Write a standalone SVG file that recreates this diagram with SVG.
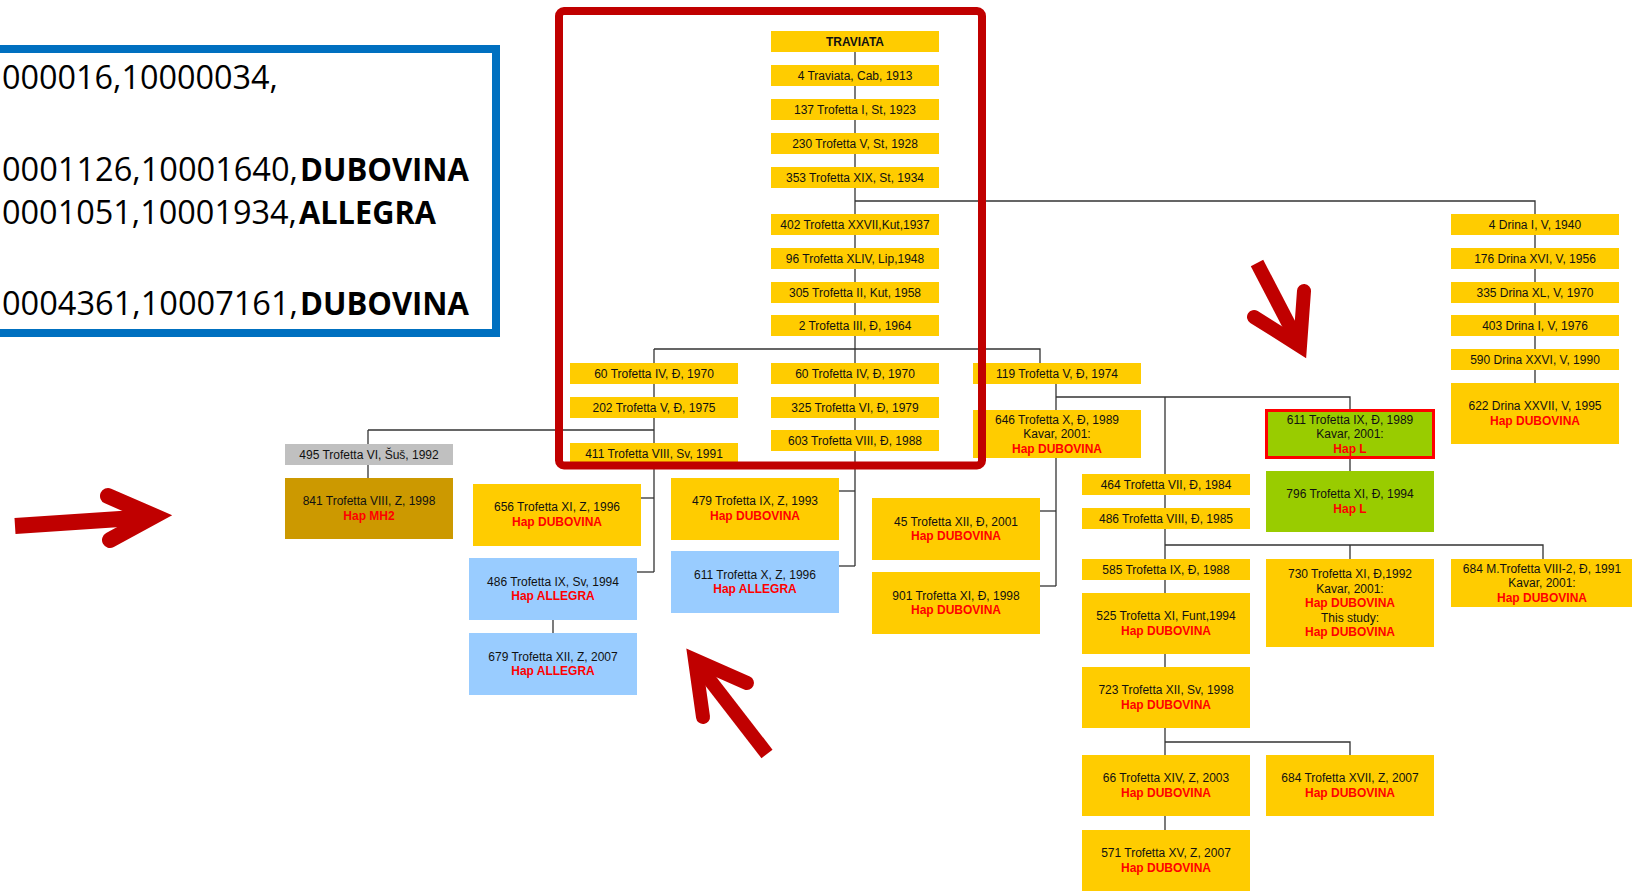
<svg xmlns="http://www.w3.org/2000/svg" width="1632" height="892" viewBox="0 0 1632 892">
<style>
.y{fill:#ffcc00}.g{fill:#99cc00}.b{fill:#99ccff}.gr{fill:#c0c0c0}.d{fill:#cc9900}
.t{font-family:"Liberation Sans",Arial,sans-serif;font-size:12px;fill:#111;text-anchor:middle}
.h{font-weight:bold;fill:#ff0000}
.bo{font-weight:bold}
.c{stroke:#333;stroke-width:1.3;fill:none}
.big{font-family:"Open Sans","Liberation Sans",sans-serif;font-size:33px;fill:#000}
.ar{stroke:#c00000;fill:none}
</style>
<rect width="1632" height="892" fill="#fff"/>

<g id="legend-box">
<rect x="-10" y="49" width="506" height="284" fill="none" stroke="#0070c0" stroke-width="8"/>
<text class="big" x="2" y="89" textLength="276" lengthAdjust="spacingAndGlyphs">000016,10000034,</text>
<text class="big" x="2" y="181" textLength="296" lengthAdjust="spacingAndGlyphs">0001126,10001640,</text>
<text class="big" x="300" y="181" font-weight="bold" textLength="169" lengthAdjust="spacingAndGlyphs">DUBOVINA</text>
<text class="big" x="2" y="224" textLength="295" lengthAdjust="spacingAndGlyphs">0001051,10001934,</text>
<text class="big" x="299" y="224" font-weight="bold" textLength="137" lengthAdjust="spacingAndGlyphs">ALLEGRA</text>
<text class="big" x="2" y="315" textLength="296" lengthAdjust="spacingAndGlyphs">0004361,10007161,</text>
<text class="big" x="300" y="315" font-weight="bold" textLength="169" lengthAdjust="spacingAndGlyphs">DUBOVINA</text>
</g>

<g id="connectors" class="c">
<path d="M855,52V566"/>
<path d="M855,201H1535V383"/>
<path d="M654,349H1040V363"/>
<path d="M654,349V572"/>
<path d="M368,430H654"/>
<path d="M368,430V478"/>
<path d="M641,498H654"/>
<path d="M637,572H654"/>
<path d="M553,620V633"/>
<path d="M839,491H855"/>
<path d="M839,566H855"/>
<path d="M1056,384V586"/>
<path d="M1040,511H1056"/>
<path d="M1040,586H1056"/>
<path d="M1056,397H1350V409"/>
<path d="M1350,459V471"/>
<path d="M1165,397V830"/>
<path d="M1165,545H1543V559"/>
<path d="M1350,545V559"/>
<path d="M1165,742H1350V755"/>
</g>

<g id="n-traviata"><rect class="y" x="771" y="31" width="168" height="21"/><text class="t bo" x="855" y="45.5">TRAVIATA</text></g>
<g id="n-4-traviata"><rect class="y" x="771" y="65" width="168" height="21"/><text class="t" x="855" y="79.5">4 Traviata, Cab, 1913</text></g>
<g id="n-137"><rect class="y" x="771" y="99" width="168" height="21"/><text class="t" x="855" y="113.5">137 Trofetta I, St, 1923</text></g>
<g id="n-230"><rect class="y" x="771" y="133" width="168" height="21"/><text class="t" x="855" y="147.5">230 Trofetta V, St, 1928</text></g>
<g id="n-353"><rect class="y" x="771" y="167" width="168" height="21"/><text class="t" x="855" y="181.5">353 Trofetta XIX, St, 1934</text></g>
<g id="n-402"><rect class="y" x="771" y="214" width="168" height="21"/><text class="t" x="855" y="228.5">402 Trofetta XXVII,Kut,1937</text></g>
<g id="n-96"><rect class="y" x="771" y="248" width="168" height="21"/><text class="t" x="855" y="262.5">96 Trofetta XLIV, Lip,1948</text></g>
<g id="n-305"><rect class="y" x="771" y="282" width="168" height="21"/><text class="t" x="855" y="296.5">305 Trofetta II, Kut, 1958</text></g>
<g id="n-2"><rect class="y" x="771" y="315" width="168" height="21"/><text class="t" x="855" y="329.5">2 Trofetta III, Đ, 1964</text></g>
<g id="n-60b"><rect class="y" x="771" y="363" width="168" height="21"/><text class="t" x="855" y="377.5">60 Trofetta IV, Đ, 1970</text></g>
<g id="n-325"><rect class="y" x="771" y="397" width="168" height="21"/><text class="t" x="855" y="411.5">325 Trofetta VI, Đ, 1979</text></g>
<g id="n-603"><rect class="y" x="771" y="430" width="168" height="21"/><text class="t" x="855" y="444.5">603 Trofetta VIII, Đ, 1988</text></g>

<g id="n-60a"><rect class="y" x="570" y="363" width="168" height="21"/><text class="t" x="654" y="377.5">60 Trofetta IV, Đ, 1970</text></g>
<g id="n-202"><rect class="y" x="570" y="397" width="168" height="21"/><text class="t" x="654" y="411.5">202 Trofetta V, Đ, 1975</text></g>
<g id="n-411"><rect class="y" x="570" y="443" width="168" height="21"/><text class="t" x="654" y="457.5">411 Trofetta VIII, Sv, 1991</text></g>

<g id="n-495"><rect class="gr" x="285" y="444" width="168" height="21"/><text class="t" x="369" y="458.5">495 Trofetta VI, Šuš, 1992</text></g>
<g id="n-841"><rect class="d" x="285" y="478" width="168" height="61"/><text class="t" x="369" y="505">841 Trofetta VIII, Z, 1998</text><text class="t h" x="369" y="519.5">Hap MH2</text></g>
<g id="n-656"><rect class="y" x="473" y="484" width="168" height="62"/><text class="t" x="557" y="511">656 Trofetta XI, Z, 1996</text><text class="t h" x="557" y="525.5">Hap DUBOVINA</text></g>
<g id="n-486a"><rect class="b" x="469" y="558" width="168" height="62"/><text class="t" x="553" y="585.5">486 Trofetta IX, Sv, 1994</text><text class="t h" x="553" y="600">Hap ALLEGRA</text></g>
<g id="n-679"><rect class="b" x="469" y="633" width="168" height="62"/><text class="t" x="553" y="660.5">679 Trofetta XII, Z, 2007</text><text class="t h" x="553" y="675">Hap ALLEGRA</text></g>
<g id="n-479"><rect class="y" x="671" y="478" width="168" height="62"/><text class="t" x="755" y="505">479 Trofetta IX, Z, 1993</text><text class="t h" x="755" y="519.5">Hap DUBOVINA</text></g>
<g id="n-611x"><rect class="b" x="671" y="551" width="168" height="62"/><text class="t" x="755" y="578.5">611 Trofetta X, Z, 1996</text><text class="t h" x="755" y="593">Hap ALLEGRA</text></g>

<g id="n-119"><rect class="y" x="973" y="363" width="168" height="21"/><text class="t" x="1057" y="377.5">119 Trofetta V, Đ, 1974</text></g>
<g id="n-646"><rect class="y" x="973" y="410" width="168" height="48"/><text class="t" x="1057" y="423.5">646 Trofetta X, Đ, 1989</text><text class="t" x="1057" y="438">Kavar, 2001:</text><text class="t h" x="1057" y="452.5">Hap DUBOVINA</text></g>
<g id="n-45"><rect class="y" x="872" y="498" width="168" height="62"/><text class="t" x="956" y="525.5">45 Trofetta XII, Đ, 2001</text><text class="t h" x="956" y="540">Hap DUBOVINA</text></g>
<g id="n-901"><rect class="y" x="872" y="572" width="168" height="62"/><text class="t" x="956" y="599.5">901 Trofetta XI, Đ, 1998</text><text class="t h" x="956" y="614">Hap DUBOVINA</text></g>

<g id="n-drina4"><rect class="y" x="1451" y="214" width="168" height="21"/><text class="t" x="1535" y="228.5">4 Drina I, V, 1940</text></g>
<g id="n-drina176"><rect class="y" x="1451" y="248" width="168" height="21"/><text class="t" x="1535" y="262.5">176 Drina XVI, V, 1956</text></g>
<g id="n-drina335"><rect class="y" x="1451" y="282" width="168" height="21"/><text class="t" x="1535" y="296.5">335 Drina XL, V, 1970</text></g>
<g id="n-drina403"><rect class="y" x="1451" y="315" width="168" height="21"/><text class="t" x="1535" y="329.5">403 Drina I, V, 1976</text></g>
<g id="n-drina590"><rect class="y" x="1451" y="349" width="168" height="21"/><text class="t" x="1535" y="363.5">590 Drina XXVI, V, 1990</text></g>
<g id="n-drina622"><rect class="y" x="1451" y="383" width="168" height="61"/><text class="t" x="1535" y="410">622 Drina XXVII, V, 1995</text><text class="t h" x="1535" y="424.5">Hap DUBOVINA</text></g>

<g id="n-611ix"><rect class="g" x="1266.5" y="410.5" width="167" height="47" stroke="#ff0000" stroke-width="3"/><text class="t" x="1350" y="423.5">611 Trofetta IX, Đ, 1989</text><text class="t" x="1350" y="438">Kavar, 2001:</text><text class="t h" x="1350" y="452.5">Hap L</text></g>
<g id="n-796"><rect class="g" x="1266" y="471" width="168" height="61"/><text class="t" x="1350" y="498">796 Trofetta XI, Đ, 1994</text><text class="t h" x="1350" y="512.5">Hap L</text></g>
<g id="n-464"><rect class="y" x="1082" y="474" width="168" height="21"/><text class="t" x="1166" y="488.5">464 Trofetta VII, Đ, 1984</text></g>
<g id="n-486b"><rect class="y" x="1082" y="508" width="168" height="21"/><text class="t" x="1166" y="522.5">486 Trofetta VIII, Đ, 1985</text></g>
<g id="n-585"><rect class="y" x="1082" y="559" width="168" height="21"/><text class="t" x="1166" y="573.5">585 Trofetta IX, Đ, 1988</text></g>
<g id="n-525"><rect class="y" x="1082" y="593" width="168" height="61"/><text class="t" x="1166" y="620">525 Trofetta XI, Funt,1994</text><text class="t h" x="1166" y="634.5">Hap DUBOVINA</text></g>
<g id="n-723"><rect class="y" x="1082" y="667" width="168" height="61"/><text class="t" x="1166" y="694">723 Trofetta XII, Sv, 1998</text><text class="t h" x="1166" y="708.5">Hap DUBOVINA</text></g>
<g id="n-66"><rect class="y" x="1082" y="755" width="168" height="61"/><text class="t" x="1166" y="782">66 Trofetta XIV, Z, 2003</text><text class="t h" x="1166" y="796.5">Hap DUBOVINA</text></g>
<g id="n-571"><rect class="y" x="1082" y="830" width="168" height="61"/><text class="t" x="1166" y="857">571 Trofetta XV, Z, 2007</text><text class="t h" x="1166" y="871.5">Hap DUBOVINA</text></g>
<g id="n-730"><rect class="y" x="1266" y="559" width="168" height="88"/><text class="t" x="1350" y="578">730 Trofetta XI, Đ,1992</text><text class="t" x="1350" y="592.5">Kavar, 2001:</text><text class="t h" x="1350" y="607">Hap DUBOVINA</text><text class="t" x="1350" y="621.5">This study:</text><text class="t h" x="1350" y="636">Hap DUBOVINA</text></g>
<g id="n-684xvii"><rect class="y" x="1266" y="755" width="168" height="61"/><text class="t" x="1350" y="782">684 Trofetta XVII, Z, 2007</text><text class="t h" x="1350" y="796.5">Hap DUBOVINA</text></g>
<g id="n-684m"><rect class="y" x="1451" y="559" width="190" height="48"/><text class="t" x="1542" y="572.5">684 M.Trofetta VIII-2, Đ, 1991</text><text class="t" x="1542" y="587">Kavar, 2001:</text><text class="t h" x="1542" y="601.5">Hap DUBOVINA</text></g>

<g id="highlight-frame">
<rect x="559" y="11" width="423" height="454.5" rx="5" fill="none" stroke="#c00000" stroke-width="8"/>
</g>

<g id="arrows">
<path class="ar" d="M15,526L150,517" stroke-width="16"/>
<path class="ar" d="M108,496L154,516L110,540" stroke-width="16" stroke-linecap="round" stroke-linejoin="miter"/>
<path class="ar" d="M1257,263L1296,338" stroke-width="14"/>
<path class="ar" d="M1254,317L1300,346L1304,291" stroke-width="14" stroke-linecap="round" stroke-linejoin="miter"/>
<path class="ar" d="M767,754L699,666" stroke-width="14"/>
<path class="ar" d="M703,717L695,660L747,683" stroke-width="14" stroke-linecap="round" stroke-linejoin="miter"/>
</g>
</svg>
